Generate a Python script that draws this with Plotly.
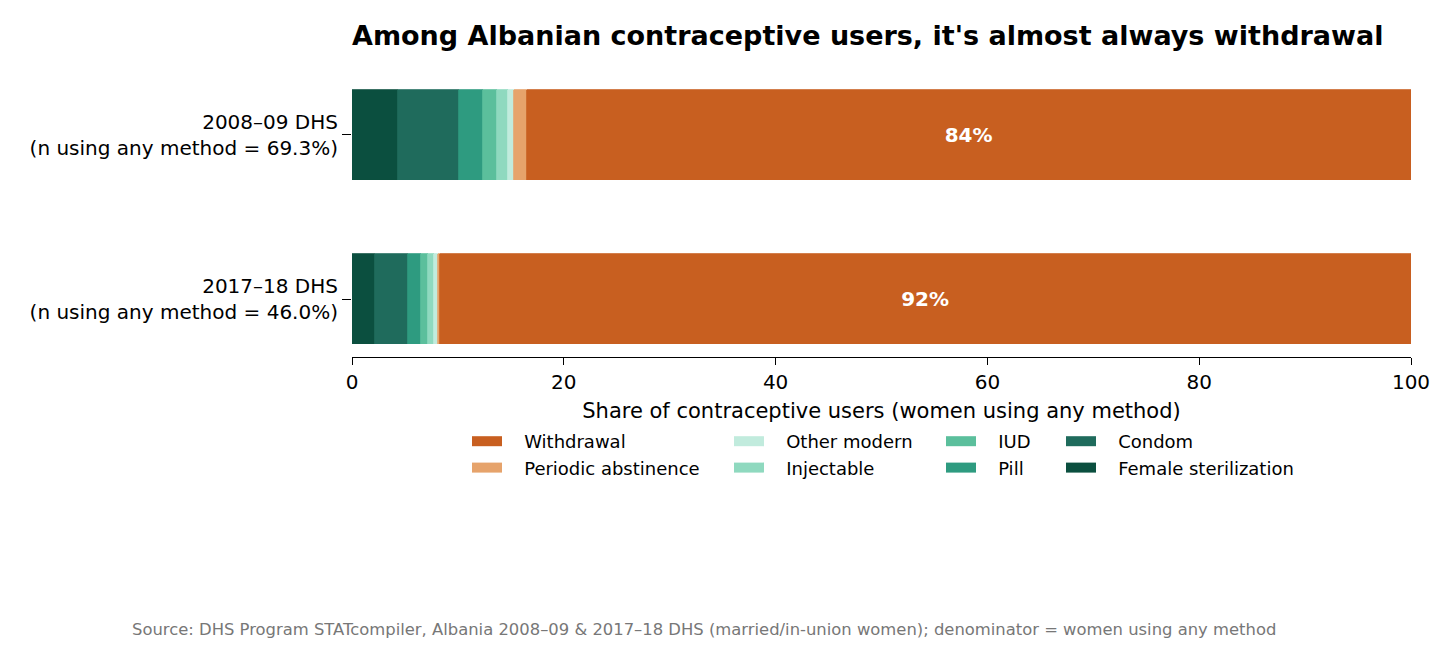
import plotly.graph_objects as go

surveys = ["2008–09 DHS<br>(n using any method = 69.3%)", "2017–18 DHS<br>(n using any method = 46.0%)"]
survey_pos = [1, 0]

methods = ["Female sterilization", "Condom", "Pill", "IUD", "Injectable",
           "Other modern", "Periodic abstinence", "Withdrawal"]
colors = ["#0b4f3f", "#1f6b5c", "#2e9b80", "#5bbf9c", "#8fd9bf",
          "#c1ebdd", "#e6a36b", "#c85f20"]

shares_2008 = [4.3, 5.8, 2.3, 1.3, 1.0, 0.6, 1.2, 83.5]
shares_2017 = [2.2, 3.1, 1.2, 0.7, 0.5, 0.4, 0.2, 91.7]

legend_columns = [["Withdrawal", "Periodic abstinence"],
                  ["Other modern", "Injectable"],
                  ["IUD", "Pill"],
                  ["Condom", "Female sterilization"]]

FONT = "DejaVu Sans"
OFF = 8  # browser body margin
W, H = 1456, 647
L = 352 - OFF
T = 77 - OFF
plot_right = 1411 - OFF
plot_bottom = 357 - OFF
R = W - plot_right
B = H - plot_bottom
pw = W - L - R
ph = H - T - B

legend_x_px = [472 - OFF - 5, 734 - OFF - 5, 946 - OFF - 5, 1066 - OFF - 5]

fig = go.Figure()

for i, m in enumerate(methods):
    vals = [shares_2008[i], shares_2017[i]]
    is_w = m == "Withdrawal"
    fig.add_trace(go.Bar(
        y=survey_pos, x=vals, orientation="h", name=m,
        marker=dict(color=colors[i], line=dict(color=colors[i], width=0.8)),
        width=0.55, showlegend=False,
        text=[f"<b>{round(v)}%</b>" for v in vals] if is_w else None,
        textposition="inside" if is_w else "none",
        insidetextanchor="middle",
        textfont=dict(color="white", size=20, family=FONT),
        hoverinfo="x+name",
    ))

for ci, col in enumerate(legend_columns):
    lname = "legend" if ci == 0 else f"legend{ci+1}"
    for m in col:
        c = colors[methods.index(m)]
        fig.add_trace(go.Scatter(
            x=[None], y=[None], mode="lines", name="\u00a0\u00a0\u00a0" + m,
            line=dict(color=c, width=13), legend=lname, showlegend=True,
        ))
    fig.update_layout({lname: dict(
        x=(legend_x_px[ci] - L) / pw, xanchor="left",
        y=1 - (423 - OFF) / H, yref="container", yanchor="top",
        orientation="v", traceorder="normal",
        font=dict(family=FONT, size=18, color="black"),
        bgcolor="rgba(0,0,0,0)", tracegroupgap=0,
    )})

fig.update_layout(
    width=W, height=H,
    margin=dict(l=L, r=R, t=T, b=B, autoexpand=False),
    paper_bgcolor="white", plot_bgcolor="white",
    barmode="stack", bargap=0,
    font=dict(family=FONT, color="black"),
    title=dict(text="<b>Among Albanian contraceptive users, it's almost always withdrawal</b>",
               x=L / W, xanchor="left", xref="container",
               y=1 - (36 - OFF) / H, yref="container", yanchor="middle",
               font=dict(size=27, family=FONT, color="black")),
    xaxis=dict(range=[0, 100], dtick=20, showgrid=False, zeroline=False,
               showline=True, linecolor="black", linewidth=1.2,
               ticks="outside", ticklen=7, tickcolor="black",
               tickfont=dict(size=20, family=FONT),
               title=dict(text="Share of contraceptive users (women using any method)",
                          font=dict(size=21, family=FONT), standoff=18)),
    yaxis=dict(range=[-0.3525, 1.3525], tickvals=survey_pos, ticktext=surveys,
               showgrid=False, zeroline=False, showline=False,
               ticks="outside", ticklen=9, tickcolor="black",
               tickfont=dict(size=20, family=FONT)),
    annotations=[dict(
        text="Source: DHS Program STATcompiler, Albania 2008–09 & 2017–18 DHS (married/in-union women); denominator = women using any method",
        x=(704 - OFF - L) / pw, xref="paper", xanchor="center",
        y=(plot_bottom - (629 - OFF)) / ph, yref="paper", yanchor="middle",
        showarrow=False, font=dict(size=16.4, family=FONT, color="#777777"))],
)

fig.write_html("out.html")
